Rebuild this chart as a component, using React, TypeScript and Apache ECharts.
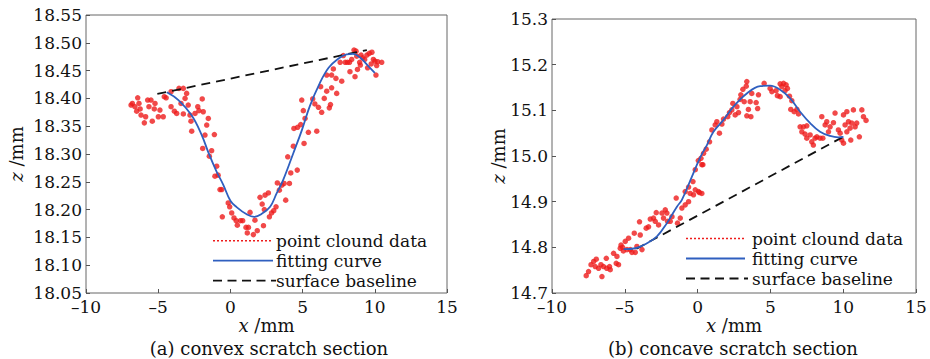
import React, { useEffect, useRef } from "react";
import * as echarts from "echarts";

// ---------- (a) convex scratch section ----------
const leftPointX = [
  -6.88, -6.79, -6.61, -6.42, -6.33, -6.49, -6.19, -6.25, -5.96, -5.87, -5.73, -5.64, -5.5, -5.41, -5.22, -5.27,
  -4.99, -4.88, -4.65, -4.58, -4.45, -4.11, -4.11, -3.88, -3.72, -3.56, -3.26, -3.14, -3.42, -3.03, -2.92, -3.26,
  -2.8, -2.45, -2.26, -2.18, -1.95, -1.88, -1.53, -1.64, -2.73, -2.68, -1.76, -1.11,
  -1.92, -1.46, -1.3, -0.95, -1.07, -0.85, -0.72, -0.6, -0.56, -0.15, -0.05, 0.09, 0.25, 0.4, 0.48, 0.7, 0.85,
  1.08, 1.17, 1.25, 1.36, 1.59, 1.86, 1.7, 2.05, 2.2, 2.4, 2.63, 2.35, 2.29, 2.7, 2.85, 3.0, 3.25, 3.16, 3.39,
  3.83, 3.56, 3.72, 4.09, 4.18, 3.97, 4.36, 4.63, 5.1, 4.4, 4.65, 4.87, 5.17, 4.94, 5.05, 5.4, 5.7, 5.85, 5.98,
  6.1, 6.32, 6.25, 6.5, 6.67, 6.85, 6.93, 7.01, 6.67, 7.01, 7.13, 7.31, 7.36, 7.71, 7.6, 7.82, 7.95, 8.1, 8.28,
  8.4, 8.56, 8.63, 8.75, 8.7, 8.95, 9.05, 9.16, 9.3, 9.45, 9.62, 9.8, 10.01, 10.13, 10.2, 10.48, 10.08, 9.5,
  9.75, 9.9, 8.25, 9.0, 8.8,
];
const leftPointZ = [
  18.388, 18.391, 18.385, 18.401, 18.391, 18.377, 18.37, 18.381, 18.356, 18.367, 18.397, 18.385, 18.397, 18.359, 18.391, 18.381,
  18.367, 18.379, 18.367, 18.403, 18.401, 18.412, 18.385, 18.377, 18.373, 18.418, 18.418, 18.4, 18.391, 18.409, 18.388, 18.372,
  18.37, 18.373, 18.385, 18.378, 18.399, 18.376, 18.364, 18.352, 18.359, 18.341, 18.334, 18.335,
  18.31, 18.296, 18.306, 18.278, 18.26, 18.262, 18.236, 18.236, 18.187, 18.212, 18.205, 18.194, 18.185, 18.18, 18.172, 18.18, 18.18,
  18.168, 18.158, 18.168, 18.195, 18.155, 18.162, 18.181, 18.222, 18.21, 18.226, 18.23, 18.2, 18.171, 18.187, 18.194, 18.198, 18.248, 18.205, 18.235,
  18.217, 18.244, 18.247, 18.247, 18.266, 18.295, 18.314, 18.271, 18.319, 18.346, 18.348, 18.353, 18.364, 18.397, 18.378, 18.339, 18.399, 18.39, 18.341,
  18.384, 18.375, 18.421, 18.4, 18.413, 18.383, 18.389, 18.419, 18.442, 18.442, 18.453, 18.436, 18.409, 18.431, 18.465, 18.477, 18.465, 18.465, 18.448,
  18.47, 18.487, 18.439, 18.476, 18.485, 18.465, 18.478, 18.473, 18.47, 18.478, 18.481, 18.483, 18.467, 18.459, 18.466, 18.465, 18.442, 18.455,
  18.462, 18.47, 18.465, 18.46, 18.452,
];
const leftCurveX = [-4.4, -3.6, -2.7, -2.0, -1.5, -0.95, -0.5, 0, 0.45, 1.1, 1.65, 2.15, 2.75, 3.2, 3.65, 4.35, 4.95, 5.5, 6.2, 6.8, 7.4, 8.05, 8.5, 9.0, 9.55, 10.0];
const leftCurveZ = [18.411, 18.397, 18.37, 18.335, 18.301, 18.268, 18.245, 18.216, 18.204, 18.192, 18.187, 18.192, 18.205, 18.229, 18.253, 18.301, 18.343, 18.386, 18.428, 18.455, 18.47, 18.479, 18.48, 18.473, 18.458, 18.446];
const leftBaseX = [-5.06, 9.45];
const leftBaseZ = [18.408, 18.487];

// ---------- (b) concave scratch section ----------
const rightPointX = [
  -7.65, -7.49, -7.32, -7.14, -6.96, -7.03, -6.8, -6.57, -6.64, -6.46, -6.27, -6.24, -6.05, -6.0, -5.77, -5.59,
  -5.43, -5.54, -5.31, -5.26, -5.15, -5.1, -4.97, -4.74, -4.85, -4.62, -4.51, -4.35, -4.28, -4.17, -3.94, -3.82,
  -3.99, -3.53, -3.37, -3.25, -3.03, -2.91, -2.84, -2.68, -2.45, -2.22, -2.11, -2.06, -2.34, -1.88, -1.76, -1.47,
  -1.38, -1.19, -1.08, -0.85, -0.62, -0.51, -0.28, -0.16, -0.32, 0.06, 0.29, 0.36, 0.41, 0.23, -0.85, -0.62, 0.13,
  -0.16, 0.05, 0.29, 0.59, 0.82, 0.98, 1.21, 1.32, 1.5, 1.67, 1.78, 2.07, 2.19, 2.35, 2.58, 2.42, 2.7, 2.81, 2.92,
  2.97, 3.2, 3.38, 3.66, 3.49, 3.11, 3.34, 3.61, 3.72, 4.02, 4.12, 4.18, 4.57, 4.98, 5.1, 5.39, 5.67, 5.79, 5.9,
  6.08, 6.17, 6.0, 6.31, 5.48, 5.67, 6.47, 6.4, 6.63, 6.82, 6.93, 7.04, 7.27, 7.5, 7.16, 7.38, 7.5, 7.73, 7.84,
  7.95, 8.07, 8.19, 8.41, 8.6, 8.53, 8.76, 8.87, 8.99, 9.1, 9.33, 9.44, 9.67, 9.79, 9.9, 10.02, 10.13, 10.25,
  10.36, 10.47, 10.59, 10.7, 10.82, 10.93, 10.52, 11.11, 11.28, 11.39, 11.57, 10.02, 10.25, 3.38,
];
const rightPointZ = [
  14.738, 14.747, 14.762, 14.769, 14.774, 14.758, 14.754, 14.736, 14.762, 14.758, 14.776, 14.754, 14.758, 14.751, 14.787, 14.765,
  14.762, 14.78, 14.798, 14.805, 14.8, 14.792, 14.813, 14.82, 14.795, 14.795, 14.789, 14.831, 14.789, 14.802, 14.827, 14.795,
  14.856, 14.842, 14.845, 14.862, 14.864, 14.857, 14.876, 14.849, 14.875, 14.882, 14.875, 14.857, 14.864, 14.857, 14.867, 14.908,
  14.853, 14.864, 14.886, 14.893, 14.9, 14.918, 14.915, 14.926, 14.944, 14.922, 14.918, 14.981, 15.006, 14.995, 14.922, 14.932, 14.92,
  14.97, 14.99, 14.981, 15.015, 15.031, 15.057, 15.068, 15.075, 15.05, 15.07, 15.081, 15.086, 15.095, 15.101, 15.09, 15.115, 15.108, 15.095, 15.124,
  15.134, 15.119, 15.088, 15.086, 15.102, 15.146, 15.153, 15.119, 15.137, 15.117, 15.104, 15.134, 15.159, 15.148, 15.141, 15.143, 15.158, 15.152, 15.159,
  15.156, 15.148, 15.143, 15.131, 15.132, 15.13, 15.121, 15.102, 15.097, 15.102, 15.092, 15.064, 15.064, 15.066, 15.053, 15.048, 15.039, 15.046, 15.031,
  15.024, 15.039, 15.042, 15.039, 15.039, 15.086, 15.068, 15.075, 15.053, 15.064, 15.073, 15.094, 15.057, 15.05, 15.035, 15.09, 15.068, 15.053,
  15.075, 15.061, 15.072, 15.101, 15.064, 15.072, 15.035, 15.042, 15.101, 15.086, 15.078, 15.028, 15.097, 15.163,
];
const rightCurveX = [-5.08, -4.28, -3.48, -2.79, -2.11, -1.42, -1.08, -0.39, 0.18, 0.64, 1.09, 1.78, 2.46, 3.38, 4.3, 4.98, 5.67, 6.36, 7.04, 7.73, 8.41, 9.1, 9.67, 10.02];
const rightCurveZ = [14.796, 14.798, 14.809, 14.824, 14.853, 14.889, 14.904, 14.955, 14.997, 15.024, 15.053, 15.079, 15.108, 15.137, 15.153, 15.154, 15.145, 15.126, 15.097, 15.072, 15.053, 15.044, 15.041, 15.042];
const rightBaseX = [-4.2, 10.0];
const rightBaseZ = [14.797, 15.042];

const xTicks = { min: -10, max: 15, interval: 5 };
const legendNames = ["point clound data", "fitting curve", "surface baseline"];
const captions = ["(a) convex scratch section", "(b) concave scratch section"];

const FONT = "'DejaVu Serif', serif";
const RED = "#ee1c1c";
const BLUE = "#2f5fbf";

const zip = (xs: number[], ys: number[]) => xs.map((x, i) => [x, ys[i]]);
const minusFmt = (v: number) => (v < 0 ? "\u2013" + Math.abs(v) : String(v));

function legendGraphics(x0: number, x1: number, tx: number, rows: number[]) {
  const els: any[] = [];
  const styles = [
    { stroke: RED, lineWidth: 1.5, lineDash: [2, 2] },
    { stroke: BLUE, lineWidth: 1.8 },
    { stroke: "#111", lineWidth: 1.8, lineDash: [9, 5.5] },
  ];
  rows.forEach((y, i) => {
    els.push({ type: "line", shape: { x1: x0, y1: y, x2: i === 2 ? x1 + 3 : x1, y2: y }, style: styles[i], z: 20 });
    els.push({
      type: "text",
      x: tx,
      y,
      style: { text: legendNames[i], fontFamily: FONT, fontSize: 17, lineHeight: 16, fill: "#111", verticalAlign: "middle", align: "left" },
      z: 20,
    });
  });
  return els;
}

export default function App() {
  const ref = useRef<HTMLDivElement>(null);
  useEffect(() => {
    if (!ref.current) return;
    const chart = echarts.init(ref.current, undefined, { renderer: "svg" });
    const axisLabel = { fontFamily: FONT, fontSize: 17, lineHeight: 13, color: "#111" };
    const nameStyle = {
      fontFamily: FONT,
      fontSize: 18,
      lineHeight: 16,
      color: "#111",
      rich: { i: { fontFamily: FONT, fontSize: 18, lineHeight: 16, fontStyle: "italic", color: "#111" } },
    };
    const xAxisBase = (gridIndex: number) => ({
      type: "value",
      gridIndex,
      ...xTicks,
      axisLine: { show: false, onZero: false },
      axisTick: { show: true, inside: true, length: 4, lineStyle: { color: "#555" } },
      splitLine: { show: false },
      axisLabel: { ...axisLabel, margin: 7, formatter: minusFmt },
      name: "{i|x} /mm",
      nameLocation: "middle",
      nameGap: 24,
      nameMoveOverlap: false,
      nameTextStyle: nameStyle,
    });
    const yAxisBase = (gridIndex: number, min: number, max: number, interval: number, digits: number, gap: number) => ({
      type: "value",
      gridIndex,
      min,
      max,
      interval,
      axisLine: { show: false, onZero: false },
      axisTick: { show: true, inside: true, length: 4, lineStyle: { color: "#555" } },
      splitLine: { show: false },
      axisLabel: { ...axisLabel, margin: 4, formatter: (v: number) => v.toFixed(digits) },
      name: "{i|z} /mm",
      nameLocation: "middle",
      nameRotate: 90,
      nameGap: gap,
      nameMoveOverlap: false,
      nameTextStyle: nameStyle,
    });
    const scatter = (i: number, data: number[][]) => ({
      type: "scatter",
      xAxisIndex: i,
      yAxisIndex: i,
      data,
      symbolSize: 5.5,
      itemStyle: { color: RED },
      z: 2,
    });
    const curve = (i: number, data: number[][]) => ({
      type: "line",
      xAxisIndex: i,
      yAxisIndex: i,
      data,
      smooth: 0.4,
      symbol: "none",
      lineStyle: { color: BLUE, width: 1.8 },
      z: 4,
    });
    const base = (i: number, data: number[][]) => ({
      type: "line",
      xAxisIndex: i,
      yAxisIndex: i,
      data,
      symbol: "none",
      lineStyle: { color: "#111", width: 1.8, type: [9, 6] },
      z: 3,
    });
    chart.setOption({
      animation: false,
      backgroundColor: "#fff",
      grid: [
        { left: 86, top: 15, width: 361, height: 278, show: true, borderColor: "#666", borderWidth: 1, backgroundColor: "transparent" },
        { left: 552, top: 19, width: 364, height: 274, show: true, borderColor: "#666", borderWidth: 1, backgroundColor: "transparent" },
      ],
      xAxis: [xAxisBase(0), xAxisBase(1)],
      yAxis: [yAxisBase(0, 18.05, 18.55, 0.05, 2, 62), yAxisBase(1, 14.7, 15.3, 0.1, 1, 46)],
      series: [
        scatter(0, zip(leftPointX, leftPointZ)),
        curve(0, zip(leftCurveX, leftCurveZ)),
        base(0, zip(leftBaseX, leftBaseZ)),
        scatter(1, zip(rightPointX, rightPointZ)),
        curve(1, zip(rightCurveX, rightCurveZ)),
        base(1, zip(rightBaseX, rightBaseZ)),
      ],
      graphic: [
        ...legendGraphics(213, 273, 276, [240.7, 260.7, 280.7]),
        ...legendGraphics(686, 745, 752, [238.5, 258.5, 278.5]),
        {
          type: "text",
          x: 269,
          y: 348,
          style: { text: captions[0], fontFamily: FONT, fontSize: 18, lineHeight: 16, fill: "#111", align: "center", verticalAlign: "middle" },
        },
        {
          type: "text",
          x: 733,
          y: 348,
          style: { text: captions[1], fontFamily: FONT, fontSize: 18, lineHeight: 16, fill: "#111", align: "center", verticalAlign: "middle" },
        },
      ],
    });
    return () => chart.dispose();
  }, []);
  return <div ref={ref} style={{ position: "fixed", left: 0, top: 0, width: 930, height: 359 }} />;
}
